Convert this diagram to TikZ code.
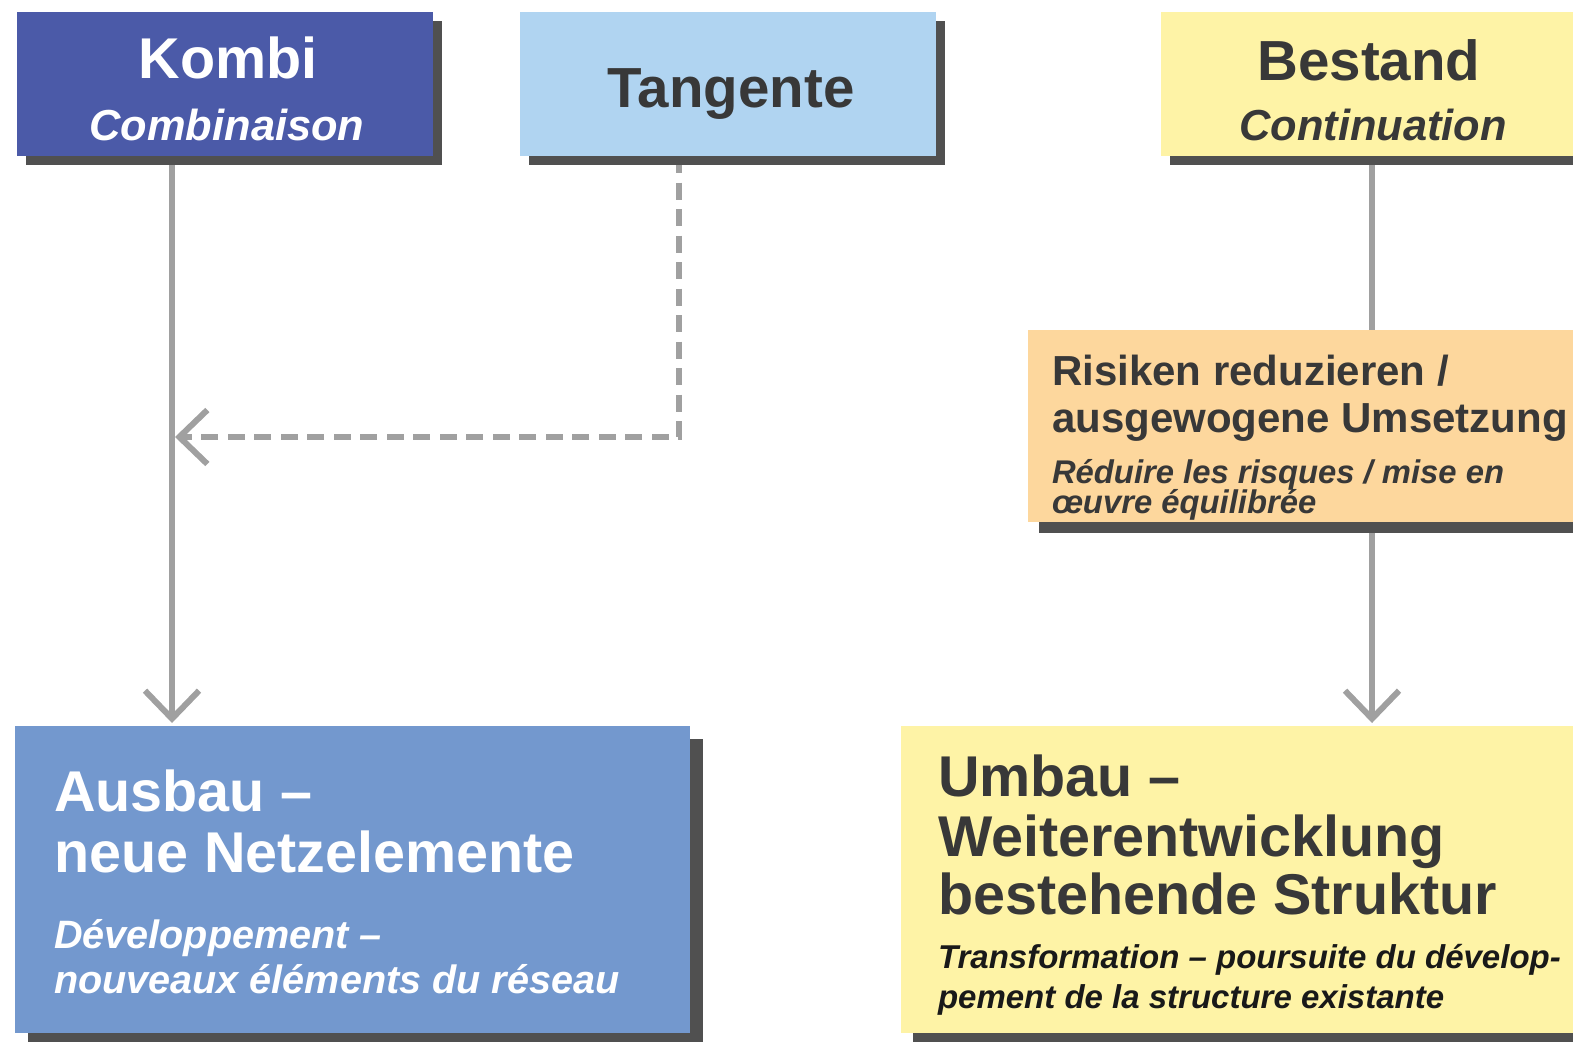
\documentclass[tikz,border=0pt]{standalone}
\usepackage{fontspec}
\setmainfont{Liberation Sans}
\usetikzlibrary{arrows.meta,shadows}
\definecolor{kombiC}{HTML}{4B5AA8}
\definecolor{tangC}{HTML}{B0D4F1}
\definecolor{bestC}{HTML}{FEF3A6}
\definecolor{riskC}{HTML}{FDD79D}
\definecolor{ausC}{HTML}{7398CE}
\definecolor{umC}{HTML}{FEF3A6}
\definecolor{shadowC}{HTML}{505050}
\definecolor{lineC}{HTML}{A0A0A0}
\definecolor{textC}{HTML}{383838}
\newcommand\fsz[1]{\fontsize{#1pt}{#1pt}\selectfont}
\pgfdeclarelayer{bg}
\pgfsetlayers{bg,main}
\begin{document}
\begin{tikzpicture}[x=1pt,y=-1pt,
  box/.style={rectangle, inner sep=0pt, outer sep=0pt, anchor=north west,
    drop shadow={shadow xshift=#1, shadow yshift=-#1, fill=shadowC, opacity=1}},
  box/.default=9pt,
  lbl/.style={inner sep=0pt, outer sep=0pt},
  conn/.style={draw=lineC, line width=6pt},
  arr/.style={-{Straight Barb[length=28pt,width=54pt]}, shorten >=3pt},
  ]
\useasboundingbox (0,0) rectangle (1573,1041);
\clip (0,0) rectangle (1573,1041);

% boxes
\node[box, fill=kombiC, minimum width=416pt, minimum height=144pt] (kombi) at (17,12) {};
\node[box, fill=tangC, minimum width=416pt, minimum height=144pt] (tang) at (520,12) {};
\node[box, fill=bestC, minimum width=420pt, minimum height=144pt] (bestand) at (1161,12) {};
\node[box=11pt, fill=riskC, minimum width=700pt, minimum height=192pt] (risk) at (1028,330) {};
\node[box=13pt, fill=ausC, minimum width=675pt, minimum height=307pt] (ausbau) at (15,726) {};
\node[box=12pt, fill=umC, minimum width=700pt, minimum height=307pt] (umbau) at (901,726) {};

% texts
\node[lbl, anchor=base, white, font=\fsz{57.5}\bfseries] (kombiT) at (228,78) {Kombi};
\node[lbl, anchor=base, white, font=\fsz{43.4}\bfseries\itshape] (kombiF) at (227,140) {Combinaison};
\node[lbl, anchor=base, textC, font=\fsz{56.5}\bfseries] (tangT) at (731,107) {Tangente};
\node[lbl, anchor=base, textC, font=\fsz{56.5}\bfseries] (bestT) at (1369,80) {Bestand};
\node[lbl, anchor=base, textC, font=\fsz{43.4}\bfseries\itshape] (bestF) at (1373,140) {Continuation};

\node[lbl, anchor=base west, textC, font=\fsz{42}\bfseries] (riskT1) at (1052,385) {Risiken reduzieren /};
\node[lbl, anchor=base west, textC, font=\fsz{42}\bfseries] (riskT2) at (1052,432) {ausgewogene Umsetzung};
\node[lbl, anchor=base west, textC, font=\fsz{32.8}\bfseries\itshape] (riskF1) at (1052,483) {Réduire les risques / mise en};
\node[lbl, anchor=base west, textC, font=\fsz{32.8}\bfseries\itshape] (riskF2) at (1052,513) {œuvre équilibrée};

\node[lbl, anchor=base west, white, font=\fsz{57.5}\bfseries] (ausT1) at (54,811) {Ausbau –};
\node[lbl, anchor=base west, white, font=\fsz{57.5}\bfseries] (ausT2) at (54,872) {neue Netzelemente};
\node[lbl, anchor=base west, white, font=\fsz{39.6}\bfseries\itshape] (ausF1) at (54,948) {Développement –};
\node[lbl, anchor=base west, white, font=\fsz{39.6}\bfseries\itshape] (ausF2) at (54,993) {nouveaux éléments du réseau};

\node[lbl, anchor=base west, textC, font=\fsz{57.5}\bfseries] (umT1) at (938,796) {Umbau –};
\node[lbl, anchor=base west, textC, font=\fsz{57.5}\bfseries] (umT2) at (938,856) {Weiterentwicklung};
\node[lbl, anchor=base west, textC, font=\fsz{57.5}\bfseries] (umT3) at (938,914) {bestehende Struktur};
\node[lbl, anchor=base west, black!90, font=\fsz{33}\bfseries\itshape] (umF1) at (938,968) {Transformation – poursuite du dévelop-};
\node[lbl, anchor=base west, black!90, font=\fsz{33}\bfseries\itshape] (umF2) at (938,1008) {pement de la structure existante};

% connector helpers
\coordinate (kx) at (172,0);
\coordinate (tx) at (679,0);
\coordinate (bx) at (1372,0);
\coordinate (kl) at (175,437);

\begin{pgfonlayer}{bg}
\draw[conn, arr] (kombi.south -| kx) -- (ausbau.north -| kx);
\draw[conn, arr, dash pattern=on 17pt off 9.5pt, shorten >=0pt] (tang.south -| tx) |- (kl);
\draw[conn] (bestand.south -| bx) -- (risk.north -| bx);
\draw[conn, arr] (risk.south -| bx) -- (umbau.north -| bx);
\end{pgfonlayer}
\end{tikzpicture}
\end{document}
